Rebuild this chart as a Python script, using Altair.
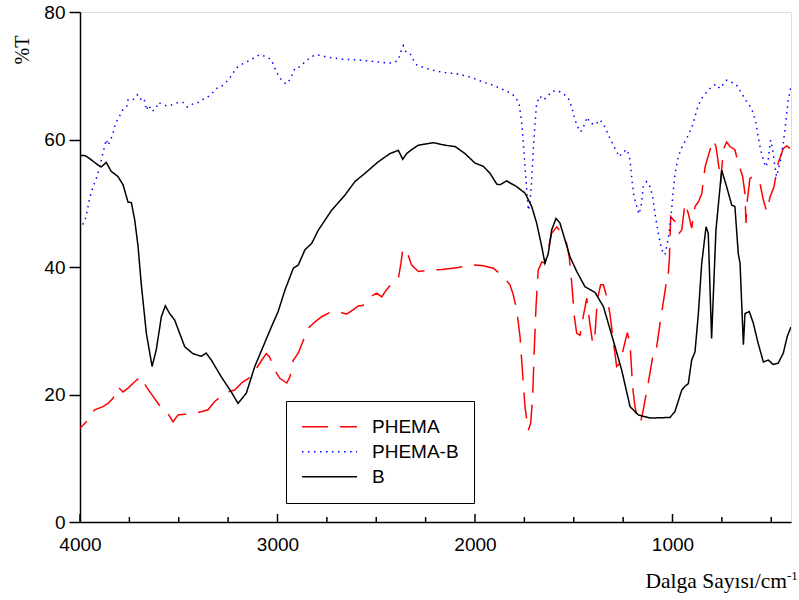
import altair as alt
import pandas as pd

SERIES = ["PHEMA", "PHEMA-B", "B"]
COLORS = ["#ff0000", "#0000ff", "#000000"]

B_WN = [4000, 3976, 3951, 3909, 3892, 3867, 3842, 3808, 3782, 3757, 3740, 3723, 3706, 3690,
        3664, 3635, 3614, 3588, 3568, 3546, 3521, 3470, 3428, 3386, 3361, 3335, 3285, 3234,
        3200, 3158, 3115, 3073, 3031, 2997, 2962, 2920, 2895, 2861, 2827, 2793, 2726, 2658,
        2608, 2557, 2490, 2430, 2388, 2366, 2346, 2321, 2287, 2211, 2152, 2101, 2051, 2000,
        1958, 1924, 1890, 1873, 1840, 1789, 1747, 1713, 1688, 1662, 1646, 1629, 1612, 1590,
        1570, 1544, 1519, 1485, 1443, 1392, 1350, 1300, 1257, 1215, 1173, 1114, 1013, 988,
        953, 937, 920, 903, 886, 869, 852, 830, 819, 802, 780, 751, 726, 700, 684, 667, 658,
        641, 633, 611, 591, 566, 540, 515, 490, 465, 439, 419, 400]
B_T = [57.5, 57.5, 57.0, 56.0, 55.7, 56.4, 55.0, 54.2, 52.9, 50.2, 50.1, 47.4, 43.2, 37.4,
       29.6, 24.4, 27.0, 32.2, 33.9, 32.7, 31.7, 27.5, 26.4, 26.0, 26.5, 25.4, 22.8, 20.4,
       18.6, 20.2, 24.4, 27.5, 30.6, 33.0, 36.4, 39.8, 40.3, 42.7, 43.7, 45.8, 48.9, 51.3,
       53.4, 54.7, 56.5, 57.8, 58.3, 56.9, 57.8, 58.4, 59.1, 59.5, 59.1, 58.9, 57.8, 56.3,
       55.8, 54.7, 53.0, 52.9, 53.5, 52.6, 51.6, 49.5, 46.9, 43.2, 40.6, 42.1, 45.8, 47.6,
       46.9, 44.2, 41.6, 39.3, 36.9, 36.0, 33.8, 28.5, 23.8, 18.1, 16.8, 16.3, 16.4, 17.3,
       20.7, 21.3, 21.7, 25.4, 26.7, 32.7, 40.6, 46.3, 45.3, 28.8, 45.8, 55.2, 52.6, 49.7,
       49.5, 42.1, 40.6, 27.8, 32.7, 33.0, 31.2, 28.0, 25.1, 25.4, 24.7, 24.9, 26.5, 29.1, 30.6]

PHEMA_WN = [4000, 3959, 3926, 3884, 3858, 3833, 3808, 3782, 3757, 3723, 3693, 3664, 3630, 3605,
            3571, 3554, 3529, 3504, 3470, 3428, 3386, 3352, 3318, 3285, 3251, 3217, 3175, 3133,
            3090, 3057, 3040, 3014, 2987, 2953, 2937, 2920, 2895, 2869, 2844, 2810, 2776, 2726,
            2692, 2650, 2616, 2591, 2566, 2532, 2498, 2472, 2456, 2422, 2388, 2375, 2366, 2354,
            2341, 2321, 2287, 2236, 2169, 2093, 2000, 1958, 1907, 1857, 1823, 1806, 1789, 1772,
            1759, 1747, 1730, 1718, 1708, 1700, 1691, 1680, 1662, 1646, 1629, 1612, 1586, 1561,
            1536, 1523, 1510, 1497, 1485, 1468, 1452, 1434, 1421, 1404, 1392, 1381, 1364, 1350,
            1333, 1317, 1300, 1283, 1266, 1246, 1229, 1215, 1202, 1190, 1173, 1161, 1148, 1123,
            1097, 1084, 1063, 1033, 1026, 1016, 1009, 987, 966, 953, 937, 920, 903, 886, 869,
            852, 835, 810, 793, 780, 763, 756, 743, 726, 709, 684, 667, 645, 633, 628, 621, 608,
            591, 557, 540, 523, 506, 486, 465, 439, 422, 405]
PHEMA_T = [14.7, 16.0, 17.6, 18.1, 18.6, 19.4, 21.2, 20.4, 21.0, 22.0, 22.8, 21.2, 19.7, 18.6,
           17.3, 17.0, 15.7, 16.8, 16.9, 17.0, 17.3, 17.6, 18.9, 19.7, 20.4, 20.7, 22.0, 22.8,
           24.9, 26.4, 25.9, 23.8, 22.5, 21.8, 22.8, 25.4, 26.5, 28.5, 30.4, 31.4, 32.2, 33.0,
           33.0, 32.6, 33.3, 33.9, 34.0, 35.3, 35.9, 35.3, 36.1, 37.4, 38.2, 40.6, 42.7, 41.9,
           42.1, 40.3, 39.3, 39.5, 39.6, 39.9, 40.3, 40.2, 39.8, 38.5, 37.2, 35.6, 33.3, 29.1,
           23.3, 18.1, 14.4, 15.5, 19.7, 27.0, 33.8, 39.5, 40.8, 40.6, 42.7, 45.3, 46.3, 45.3,
           43.7, 41.6, 37.4, 32.2, 29.6, 29.3, 32.2, 35.1, 31.7, 28.0, 29.6, 34.8, 37.2, 37.2,
           35.3, 32.7, 28.5, 24.4, 24.9, 27.5, 29.7, 28.0, 21.2, 18.1, 15.7, 15.7, 17.6, 21.8,
           26.5, 26.6, 31.2, 37.2, 37.2, 41.1, 47.9, 47.1, 45.3, 45.8, 50.0, 48.4, 46.1, 49.5,
           50.2, 51.5, 55.7, 58.4, 59.9, 58.9, 55.2, 53.1, 58.4, 59.6, 58.9, 58.4, 56.3, 54.2,
           51.5, 46.9, 50.5, 53.9, 54.2, 53.1, 50.5, 48.7, 51.0, 52.6, 56.3, 58.6, 59.0, 58.6]

PHEMAB_WN = [4000, 3976, 3963, 3951, 3934, 3917, 3900, 3892, 3878, 3867, 3858, 3845, 3833, 3821,
             3808, 3782, 3761, 3757, 3732, 3710, 3698, 3676, 3664, 3652, 3635, 3614, 3605, 3563,
             3538, 3504, 3478, 3457, 3436, 3406, 3386, 3361, 3335, 3310, 3276, 3242, 3209, 3175,
             3141, 3115, 3090, 3057, 3031, 3006, 2987, 2957, 2937, 2911, 2886, 2861, 2827, 2802,
             2743, 2675, 2591, 2506, 2439, 2414, 2388, 2375, 2363, 2351, 2329, 2312, 2295, 2253,
             2203, 2152, 2093, 2025, 1966, 1907, 1848, 1814, 1792, 1776, 1764, 1755, 1747, 1738,
             1730, 1722, 1713, 1705, 1696, 1688, 1671, 1654, 1634, 1612, 1583, 1553, 1528, 1510,
             1494, 1477, 1465, 1443, 1433, 1418, 1392, 1367, 1342, 1317, 1296, 1269, 1249, 1229,
             1215, 1207, 1195, 1181, 1170, 1159, 1148, 1131, 1114, 1100, 1089, 1072, 1055, 1038,
             1021, 1009, 999, 987, 974, 959, 928, 903, 886, 869, 847, 814, 780, 760, 726, 679,
             645, 624, 604, 591, 577, 566, 554, 540, 527, 515, 503, 493, 481, 473, 456, 439, 425,
             414, 402]
PHEMAB_T = [46.1, 47.1, 48.9, 50.8, 52.6, 53.9, 55.7, 56.8, 58.6, 60.0, 59.1, 59.9, 61.0, 62.5,
            63.2, 64.7, 65.3, 66.2, 66.2, 67.0, 66.3, 66.5, 64.6, 65.4, 64.4, 64.9, 65.8, 65.3,
            65.4, 65.8, 65.8, 65.1, 65.5, 65.7, 66.2, 66.5, 67.1, 68.0, 68.5, 69.6, 71.2, 71.9,
            72.4, 72.9, 73.3, 73.0, 72.5, 70.6, 69.6, 68.7, 69.4, 71.2, 71.4, 72.2, 73.0, 73.3,
            72.9, 72.6, 72.5, 72.2, 72.0, 72.0, 72.5, 73.8, 74.7, 73.8, 73.5, 72.5, 71.7, 71.2,
            70.8, 70.5, 70.3, 69.8, 69.1, 68.5, 67.7, 67.2, 66.5, 65.4, 62.8, 59.4, 55.7, 52.1,
            48.9, 50.0, 53.6, 58.4, 62.5, 65.7, 66.8, 66.2, 66.7, 67.5, 67.7, 67.2, 66.5, 65.1,
            63.1, 61.8, 61.2, 62.5, 63.5, 62.6, 62.3, 63.1, 62.0, 60.2, 58.9, 57.3, 58.1, 58.4,
            56.8, 54.2, 51.0, 49.5, 48.3, 49.5, 52.6, 53.4, 52.6, 51.0, 48.4, 45.3, 42.7, 41.9,
            44.5, 47.4, 51.0, 54.7, 56.8, 58.4, 60.2, 61.8, 63.6, 65.4, 66.7, 67.9, 68.7, 68.0,
            69.3, 68.7, 67.0, 65.9, 65.1, 64.1, 62.5, 60.4, 58.4, 56.8, 55.7, 57.0, 59.9, 58.4,
            55.7, 54.2, 56.3, 59.4, 63.1, 66.2, 68.0]

MAJOR_TICKS = [4000, 3000, 2000, 1000]
MINOR_TICKS = [3750, 3500, 3250, 2750, 2500, 2250, 1750, 1500, 1250, 750, 500]
Y_TICKS = [0, 20, 40, 60, 80]

rows = []
for name, wn, tv in [("PHEMA", PHEMA_WN, PHEMA_T), ("PHEMA-B", PHEMAB_WN, PHEMAB_T), ("B", B_WN, B_T)]:
    for w, v in zip(wn, tv):
        rows.append({"series": name, "wn": w, "T": v})
df = pd.DataFrame(rows)

W, H = 711, 510
xscale = alt.Scale(domain=[400, 4000], reverse=True, nice=False, zero=False)
yscale = alt.Scale(domain=[0, 80], nice=False, zero=True)

lines = alt.Chart(df).mark_line(strokeWidth=1.5, clip=True).encode(
    x=alt.X("wn:Q", scale=xscale, title="",
            axis=alt.Axis(values=MAJOR_TICKS, format="d", ticks=False, tickSize=0,
                          labelPadding=13, grid=False, labelFontSize=19, labelFlush=False,
                          labelFont="Liberation Sans", labelColor="black",
                          domainColor="black", domainWidth=1.5)),
    y=alt.Y("T:Q", scale=yscale, title="",
            axis=alt.Axis(values=Y_TICKS, grid=False, tickSize=11, tickWidth=1.5,
                          tickColor="black", labelPadding=4, labelFontSize=19,
                          labelFlush=False,
                          labelFont="Liberation Sans", labelColor="black",
                          domainColor="black", domainWidth=1.5)),
    color=alt.Color("series:N", scale=alt.Scale(domain=SERIES, range=COLORS), title=None,
                    legend=alt.Legend(orient="none", legendX=206, legendY=389,
                                      symbolType="stroke", symbolSize=3025,
                                      symbolStrokeWidth=1.5, labelFontSize=19,
                                      labelFont="Liberation Sans", labelColor="black",
                                      labelOffset=14, padding=15, rowPadding=3,
                                      clipHeight=21.5,
                                      strokeColor="black", fillColor="white",
                                      cornerRadius=0)),
    strokeDash=alt.StrokeDash("series:N",
                              scale=alt.Scale(domain=SERIES, range=[[26, 12], [1.5, 4.5], [1, 0]]),
                              title=None),
    order=alt.Order("wn:Q"),
)

tick_df_major = pd.DataFrame({"wn": MAJOR_TICKS})
tick_df_minor = pd.DataFrame({"wn": MINOR_TICKS})
major = alt.Chart(tick_df_major).mark_rule(color="black", strokeWidth=1.5).encode(
    x=alt.X("wn:Q", scale=xscale), y=alt.value(H), y2=alt.value(H - 8))
minor = alt.Chart(tick_df_minor).mark_rule(color="black", strokeWidth=1.5).encode(
    x=alt.X("wn:Q", scale=xscale), y=alt.value(H), y2=alt.value(H - 5))

xtitle = alt.Chart(pd.DataFrame({"t": ["Dalga Sayısı/cm"]})).mark_text(
    font="Liberation Serif", fontSize=21.5, align="right", baseline="alphabetic", color="black"
).encode(text="t:N", x=alt.value(707), y=alt.value(576))
xsup = alt.Chart(pd.DataFrame({"t": ["-1"]})).mark_text(
    font="Liberation Serif", fontSize=13, align="left", baseline="alphabetic", color="black"
).encode(text="t:N", x=alt.value(707), y=alt.value(568))
ytitle = alt.Chart(pd.DataFrame({"t": ["%T"]})).mark_text(
    font="Liberation Serif", fontSize=20, align="center", baseline="middle", angle=270,
    color="black"
).encode(text="t:N", x=alt.value(-57), y=alt.value(38))

chart = alt.layer(lines, major, minor, xtitle, xsup, ytitle).properties(
    width=W, height=H,
    autosize=alt.AutoSizeParams(type="none"),
    padding={"left": 80, "top": 12, "right": 8, "bottom": 78},
).configure_view(stroke="black", strokeWidth=1.5).configure(background="white")

chart.save("out.html", embed_options={"renderer": "svg", "actions": False})
